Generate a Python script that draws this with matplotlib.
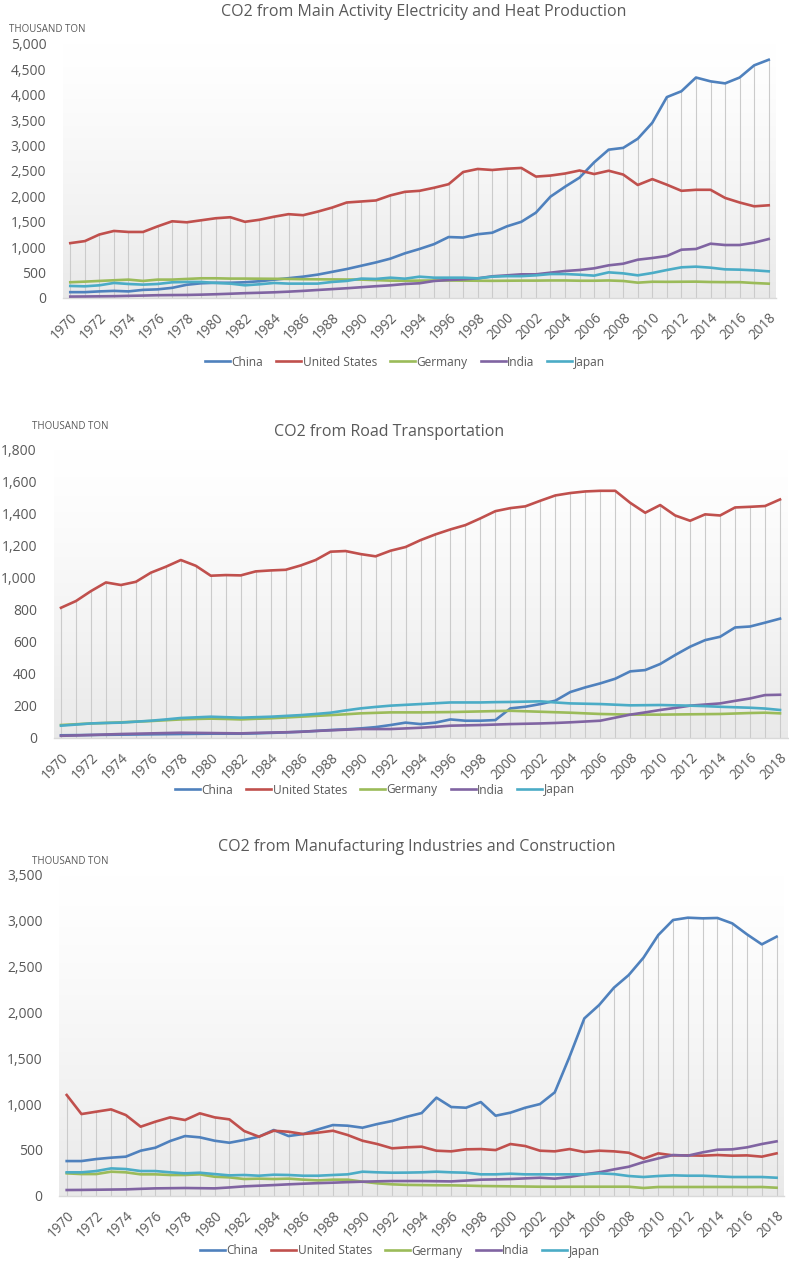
import matplotlib
matplotlib.use("Agg")
import matplotlib.pyplot as plt
import numpy as np

plt.rcParams['font.family'] = ['Open Sans', 'DejaVu Sans']

years = list(range(1970, 2019))
countries = ["China", "United States", "Germany", "India", "Japan"]
colors = ["#4F81BD", "#C0504D", "#9BBB59", "#8064A2", "#4BACC6"]

# ---- Chart 1: Main Activity Electricity and Heat Production ----
elec_china = [115, 115, 130, 140, 130, 160, 170, 200, 260, 290, 300, 300, 310, 330, 360, 390, 420, 460, 515, 570,
              635, 700, 775, 880, 965, 1060, 1200, 1190, 1255, 1285, 1410, 1500, 1680, 1995, 2190, 2370, 2670, 2920,
              2955, 3135, 3450, 3955, 4070, 4340, 4265, 4225, 4340, 4580, 4690]
elec_us = [1080, 1120, 1250, 1320, 1300, 1300, 1410, 1510, 1490, 1530, 1570, 1590, 1500, 1540, 1600, 1650, 1630,
           1700, 1780, 1880, 1900, 1920, 2020, 2090, 2110, 2170, 2240, 2480, 2540, 2520, 2545, 2560, 2390, 2410,
           2450, 2510, 2440, 2505, 2430, 2225, 2340, 2230, 2110, 2130, 2130, 1970, 1880, 1805, 1825]
elec_germany = [310, 322, 336, 349, 362, 336, 362, 362, 375, 388, 388, 382, 382, 380, 378, 375, 370, 368, 366, 364,
                362, 352, 342, 340, 342, 345, 345, 342, 340, 338, 340, 342, 342, 345, 345, 340, 340, 345, 335, 302,
                320, 318, 320, 322, 315, 312, 312, 295, 282]
elec_india = [28, 30, 33, 36, 42, 48, 55, 58, 60, 66, 74, 84, 95, 103, 112, 125, 140, 158, 175, 192, 212, 232, 250,
              276, 290, 335, 354, 367, 387, 427, 446, 466, 466, 499, 531, 551, 584, 643, 675, 754, 787, 827, 951, 965,
              1069, 1043, 1043, 1089, 1161]
elec_japan = [237, 230, 250, 296, 276, 263, 276, 309, 316, 316, 296, 283, 250, 270, 296, 283, 283, 283, 316, 336,
              382, 375, 400, 380, 420, 400, 400, 400, 387, 420, 430, 430, 446, 472, 472, 459, 440, 505, 485, 446,
              492, 551, 604, 617, 597, 564, 558, 545, 525]

# ---- Chart 2: Road Transportation ----
road_china = [15, 16, 17, 18, 19, 20, 21, 22, 23, 24, 25, 25, 25, 27, 30, 33, 37, 42, 48, 52, 58, 66, 79, 94, 85,
              94, 114, 106, 106, 110, 183, 193, 210, 231, 285, 314, 339, 368, 414, 422, 460, 516, 568, 609, 630,
              688, 694, 718, 743]
road_us = [811, 853, 915, 969, 953, 973, 1030, 1067, 1109, 1073, 1011, 1015, 1013, 1038, 1044, 1048, 1075, 1109,
           1161, 1165, 1146, 1132, 1167, 1190, 1233, 1269, 1300, 1327, 1369, 1414, 1433, 1444, 1479, 1512, 1527,
           1537, 1541, 1541, 1466, 1404, 1452, 1387, 1354, 1394, 1387, 1437, 1441, 1446, 1487]
road_germany = [79, 84, 89, 92, 96, 100, 104, 109, 114, 117, 119, 117, 114, 118, 121, 126, 131, 136, 141, 146, 152,
                155, 158, 158, 158, 159, 160, 162, 164, 166, 168, 165, 162, 159, 156, 152, 148, 146, 144, 144, 144,
                145, 146, 147, 148, 151, 154, 156, 152]
road_india = [12, 14, 17, 20, 23, 25, 27, 29, 31, 30, 29, 28, 27, 30, 32, 34, 37, 42, 46, 50, 54, 54, 54, 58, 62,
              68, 75, 77, 79, 82, 85, 87, 89, 92, 96, 101, 106, 125, 144, 158, 173, 186, 200, 207, 214, 230, 245,
              266, 268]
road_japan = [75, 82, 89, 92, 94, 100, 106, 114, 123, 127, 131, 128, 125, 128, 131, 136, 141, 148, 156, 170, 183,
              192, 200, 205, 210, 215, 220, 220, 220, 222, 223, 225, 227, 220, 214, 212, 210, 206, 202, 203, 204,
              202, 200, 197, 193, 190, 187, 182, 173]

# ---- Chart 3: Manufacturing Industries and Construction ----
manu_china = [378, 378, 400, 415, 426, 491, 524, 597, 651, 637, 600, 578, 608, 644, 717, 651, 673, 724, 771, 764,
              742, 782, 815, 862, 902, 1070, 968, 960, 1022, 873, 906, 960, 1000, 1128, 1517, 1935, 2081, 2270, 2408,
              2598, 2845, 3009, 3034, 3027, 3031, 2972, 2852, 2743, 2827]
manu_us = [1099, 891, 917, 942, 880, 753, 808, 855, 826, 899, 855, 833, 706, 644, 709, 698, 673, 688, 709, 662,
           600, 564, 517, 528, 535, 491, 484, 506, 509, 498, 564, 542, 491, 484, 509, 477, 491, 484, 469, 404, 462,
           440, 440, 437, 444, 437, 440, 426, 462]
manu_germany = [244, 236, 236, 262, 255, 233, 233, 226, 226, 233, 207, 200, 182, 186, 182, 186, 175, 167, 175, 175,
                153, 135, 124, 118, 116, 114, 113, 110, 106, 104, 102, 100, 98, 98, 98, 98, 98, 98, 98, 84, 95, 95,
                95, 95, 95, 95, 94, 95, 87]
manu_india = [62, 63, 65, 67, 69, 75, 80, 82, 84, 82, 80, 90, 102, 109, 116, 124, 131, 137, 142, 148, 153, 157, 160,
              160, 160, 158, 156, 165, 175, 178, 182, 189, 196, 186, 204, 233, 255, 287, 316, 367, 407, 444, 437,
              473, 502, 506, 528, 564, 593]
manu_japan = [255, 255, 269, 298, 291, 269, 269, 255, 244, 251, 236, 222, 226, 218, 229, 226, 218, 218, 226, 233,
              262, 255, 251, 252, 255, 262, 255, 251, 233, 233, 240, 233, 233, 233, 233, 233, 244, 236, 215, 204,
              215, 222, 218, 218, 211, 204, 204, 204, 196]

ytick_vals = {
    "elec": [0, 500, 1000, 1500, 2000, 2500, 3000, 3500, 4000, 4500, 5000],
    "road": [0, 200, 400, 600, 800, 1000, 1200, 1400, 1600, 1800],
    "manu": [0, 500, 1000, 1500, 2000, 2500, 3000, 3500],
}

W, H = 789, 1262
fig = plt.figure(figsize=(W / 100, H / 100), dpi=100)
fig.patch.set_facecolor("white")

TXT = "#595959"

def px_axes(left, right, top, bottom):
    return [left / W, 1 - bottom / H, (right - left) / W, (bottom - top) / H]

grad = np.linspace(0, 1, 256)
grad = 1.0 - 0.085 * grad ** 1.3
grad_img = np.dstack([grad, grad, grad])[:, None, :].reshape(256, 1, 3)

def draw(rect, series, yt, title, title_xy, unit_xy, legend_xy):
    ax = fig.add_axes(rect)
    ax.set_xlim(1969.5, 2018.5)
    ax.set_ylim(yt[0], yt[-1])
    ax.imshow(grad_img, extent=[0, 1, 0, 1], transform=ax.transAxes, aspect="auto",
              zorder=0, interpolation="bilinear")
    ax.set_facecolor("white")
    arr = np.array(series)
    ax.vlines(years, 0, arr.max(axis=0), colors="#CBCBCB", linewidth=0.8, zorder=1)
    for s, c, name in zip(series, colors, countries):
        ax.plot(years, s, color=c, linewidth=1.9, label=name, zorder=3, solid_joinstyle="round")
    for sp in ["top", "right", "left"]:
        ax.spines[sp].set_visible(False)
    ax.spines["bottom"].set_color("#D9D9D9")
    ax.spines["bottom"].set_linewidth(1.0)
    ax.spines["bottom"].set_zorder(2)
    ax.set_yticks(yt)
    ax.set_yticklabels([f"{v:,}" for v in yt], fontsize=10, color=TXT)
    ax.set_xticks(years[::2])
    ax.set_xticklabels([str(y) for y in years[::2]], fontsize=9.8, color=TXT,
                       rotation=45, ha="right", va="top", rotation_mode="anchor")
    ax.tick_params(axis="y", length=0, pad=12)
    ax.tick_params(axis="x", length=0, pad=9)
    fig.text(title_xy[0] / W, 1 - title_xy[1] / H, title, ha="center", va="center",
             fontsize=11.5, color=TXT)
    fig.text(unit_xy[0] / W, 1 - unit_xy[1] / H, "THOUSAND TON", ha="left", va="center",
             fontsize=7, color=TXT)
    fig.legend(handles=ax.get_lines(), labels=countries, loc="center",
               bbox_to_anchor=(legend_xy[0] / W, 1 - legend_xy[1] / H), ncol=5,
               frameon=False, fontsize=8.6, handlelength=2.1, handletextpad=0.1,
               columnspacing=1.1, labelcolor=TXT)
    return ax

draw(px_axes(63, 776, 44, 298),
     [elec_china, elec_us, elec_germany, elec_india, elec_japan], ytick_vals["elec"],
     "CO2 from Main Activity Electricity and Heat Production", (424, 12), (9, 29), (405, 362))

draw(px_axes(53.5, 787.5, 449.3, 737.7),
     [road_china, road_us, road_germany, road_india, road_japan], ytick_vals["road"],
     "CO2 from Road Transportation", (389, 432), (32, 427), (375, 790))

draw(px_axes(59.3, 784, 875, 1195.7),
     [manu_china, manu_us, manu_germany, manu_india, manu_japan], ytick_vals["manu"],
     "CO2 from Manufacturing Industries and Construction", (417, 847), (32, 861), (400, 1251))

fig.savefig("out.png", dpi=100)
